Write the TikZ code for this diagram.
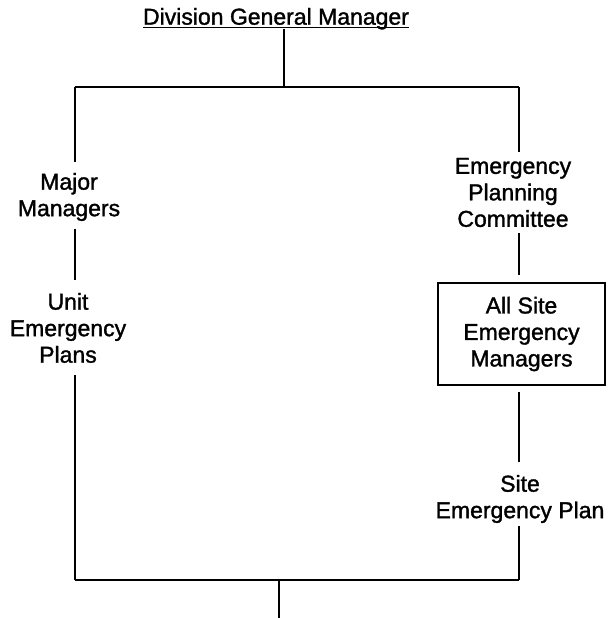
\documentclass[tikz,border=0pt]{standalone}
\usepackage{fontspec}
\setmainfont[FakeBold=1.4]{Liberation Sans}
\begin{document}
\begin{tikzpicture}[x=1pt,y=-1pt,
  lbl/.style={font=\fontsize{23}{26.5}\selectfont, align=center, inner sep=0pt, outer sep=0pt},
  boxnode/.style={lbl, draw, line width=1.6pt, minimum width=167pt, minimum height=102pt},
  conn/.style={line width=1.8pt}]
\useasboundingbox (0,0) rectangle (611,618);
% nodes
\node[lbl, anchor=north] (title) at (276,8) {Division General Manager};
\node[lbl, anchor=north] (major) at (69,173) {Major\\Managers};
\node[lbl, anchor=north] (unit) at (68,293) {Unit\\Emergency\\Plans};
\node[lbl, anchor=north] (epc) at (513,158) {Emergency\\Planning\\Committee};
\node[boxnode] (asem) at (521.5,334) {All Site\\Emergency\\Managers};
\node[lbl, anchor=north] (sep) at (520,475) {Site\\Emergency Plan};
% junction coordinates
\coordinate (jt) at (284,87);
\coordinate (jl) at (75,87);
\coordinate (jr) at (519,87);
\coordinate (bl) at (75,580);
\coordinate (br) at (519,580);
\coordinate (bm) at (279,580);
\coordinate (bend) at (279,618);
% underline
\draw[line width=1.5pt] ([yshift=-3pt]title.base west) -- ([yshift=-3pt]title.base east);
% connectors
\draw[conn] (title.south -| jt) -- (jt);
\draw[conn] (jl) -- (jr);
\draw[conn, shorten >=11pt] (jl) -- (major.north -| jl);
\draw[conn, shorten <=8pt, shorten >=13pt] (major.south -| jl) -- (unit.north -| jl);
\draw[conn, shorten <=12pt] (unit.south -| bl) -- (bl);
\draw[conn, shorten >=6pt] (jr) -- (epc.north -| jr);
\draw[conn, shorten <=6pt, shorten >=8pt] (epc.south -| jr) -- (asem.north -| jr);
\draw[conn, shorten <=7pt, shorten >=13pt] (asem.south -| jr) -- (sep.north -| jr);
\draw[conn, shorten <=3pt] (sep.south -| br) -- (br);
\draw[conn] (bl) -- (br);
\draw[conn] (bm) -- (bend);
\end{tikzpicture}
\end{document}
